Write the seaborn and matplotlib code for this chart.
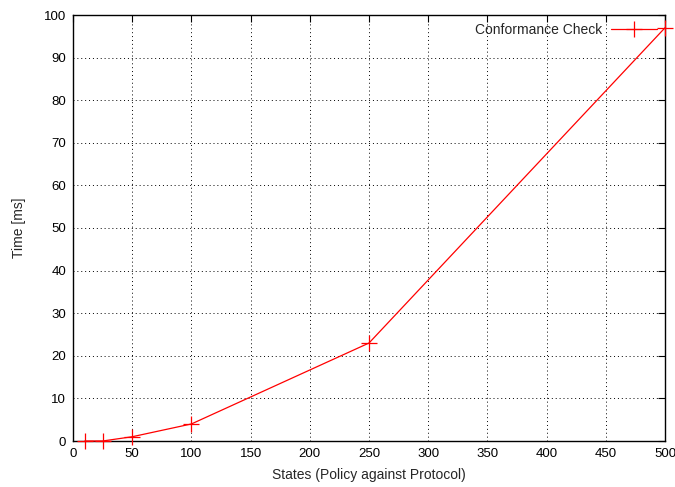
import matplotlib
matplotlib.use("Agg")
import matplotlib.pyplot as plt
import seaborn as sns
import pandas as pd

states = [10, 25, 50, 100, 250, 500]
time_ms = [0, 0, 1, 4, 23, 97]
series_name = "Conformance Check"
x_ticks = list(range(0, 501, 50))
y_ticks = list(range(0, 101, 10))

sns.set_style("white")
plt.rcParams["font.family"] = ["Liberation Sans", "DejaVu Sans"]
plt.rcParams["font.size"] = 9

df = pd.DataFrame({"States": states, "Time": time_ms})

fig = plt.figure(figsize=(6.75, 4.87), dpi=100)
ax = fig.add_axes([73 / 675, 1 - 441 / 487, (665 - 73) / 675, (441 - 15) / 487])

sns.lineplot(data=df, x="States", y="Time", ax=ax, color="#ff0000", linewidth=0.9,
             marker="+", markersize=11, markeredgewidth=0.9,
             markeredgecolor="#ff0000", markerfacecolor="#ff0000",
             label=series_name, clip_on=False, zorder=5)

ax.set_xlim(0, 500)
ax.set_ylim(0, 100)
ax.set_xticks(x_ticks)
ax.set_yticks(y_ticks)
ax.grid(True, color="black", linestyle=(0, (1, 3)), linewidth=0.7)
ax.tick_params(direction="in", length=5, width=0.8, top=True, right=True,
               labelsize=9.5, colors="black", pad=5)
for s in ax.spines.values():
    s.set_color("black")
    s.set_linewidth(1.0)
ax.set_xlabel("States (Policy against Protocol)", fontsize=10, labelpad=6)
ax.set_ylabel("Time [ms]", fontsize=10, labelpad=13)

leg = ax.legend(loc="upper right", frameon=False, markerfirst=False,
                handlelength=3.3, borderaxespad=0.4, borderpad=0.2,
                handletextpad=0.6, fontsize=10)

fig.savefig("out.png", dpi=100)
